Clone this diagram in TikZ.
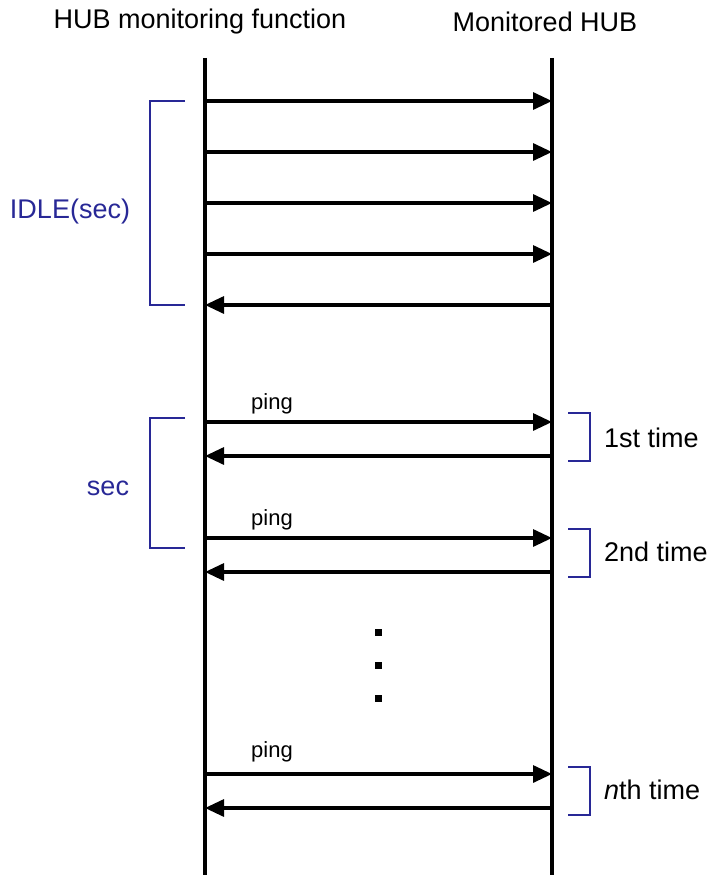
\documentclass[tikz,border=0pt]{standalone}
\usepackage{fontspec}
\setmainfont{Liberation Sans}
\usetikzlibrary{arrows.meta,positioning}
\definecolor{braceblue}{RGB}{40,40,150}

\begin{document}
\begin{tikzpicture}[x=1pt,y=-1pt, life/.style={line width=3.2pt}, msg/.style={-{Triangle[length=19pt,width=17pt]},line width=3.2pt}, brace/.style={draw=braceblue,line width=2.8pt}, lbl/.style={font=\fontsize{27}{30}\selectfont,inner sep=0pt}, pinglbl/.style={font=\fontsize{22}{25}\selectfont,inner sep=0pt}, bluelbl/.style={lbl,text=braceblue}]
\useasboundingbox (0,0) rectangle (714,875);
% lifelines
\coordinate (hubtop) at (205,58);
\coordinate (hubbot) at (205,875);
\coordinate (montop) at (552,58);
\coordinate (monbot) at (552,875);
\draw[life] (hubtop)--(hubbot);
\draw[life] (montop)--(monbot);
\node[lbl] (hubfn) at (200,22) {HUB monitoring function};
\node[lbl] (monhub) at (545,22) {Monitored HUB};
% idle messages
\foreach \y/\n in {101/a,152/b,203/c,254/d,422/p1,538/p2,774/pn}{
  \coordinate (s\n) at (205,\y);
  \coordinate (t\n) at (552,\y);
  \draw[msg] (s\n)--(t\n);
}
\foreach \y/\n in {305/e,456/r1,572/r2,808/rn}{
  \coordinate (s\n) at (552,\y);
  \coordinate (t\n) at (205,\y);
  \draw[msg] (s\n)--(t\n);
}
\node[pinglbl] (ping1) at (272,404) {ping};
\node[pinglbl] (ping2) at (272,520) {ping};
\node[pinglbl] (pingn) at (272,752) {ping};
% left brackets
\draw[brace] (185,101)--(150,101)--(150,305)--(185,305);
\node[bluelbl] (idle) at (70,212) {IDLE(sec)};
\draw[brace] (185,418)--(150,418)--(150,548)--(185,548);
\node[bluelbl] (sec) at (108,488) {sec};
% right brackets
\draw[brace] (568,413)--(590,413)--(590,461)--(568,461);
\node[lbl,anchor=west] (first) at (604,438) {1st time};
\draw[brace] (568,529)--(590,529)--(590,577)--(568,577);
\node[lbl,anchor=west] (second) at (604,552) {2nd time};
\draw[brace] (568,767)--(590,767)--(590,815)--(568,815);
\node[lbl,anchor=west] (nth) at (604,790) {\textit{n}th time};
% dots
\foreach \y in {632,665,698}{
  \fill (375,\y-3.5) rectangle +(7,7);
}
\end{tikzpicture}
\end{document}
